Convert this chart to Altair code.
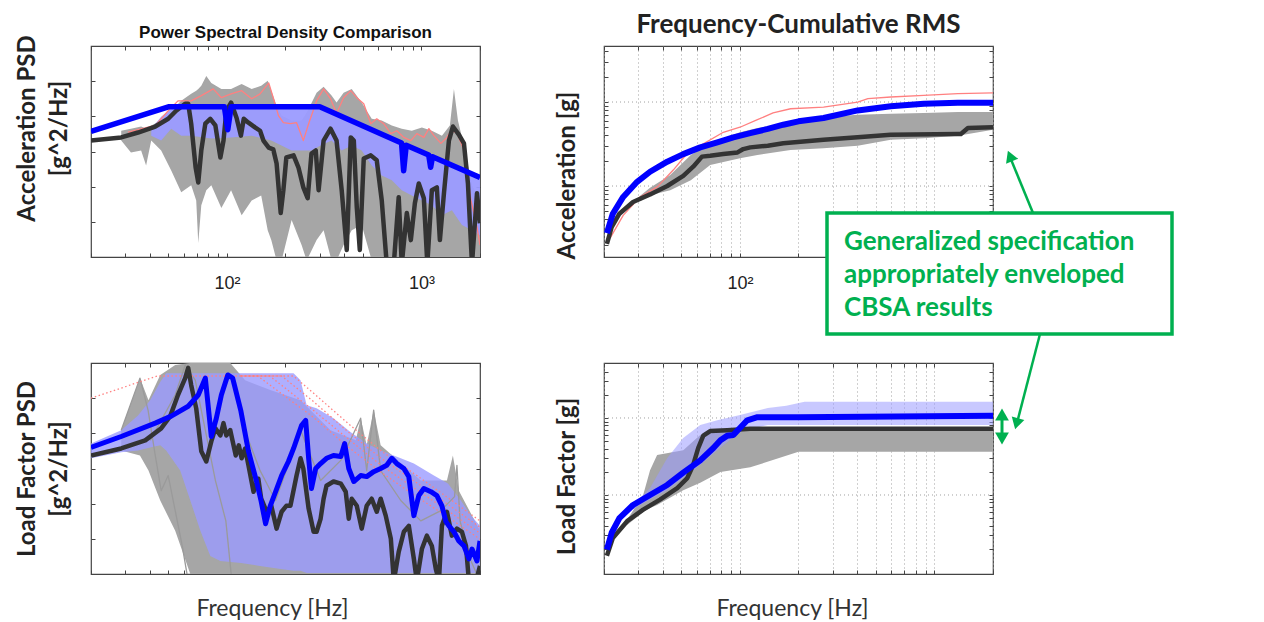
import altair as alt
import pandas as pd

# ---------------- shared axis ticks (log frequency axis) ----------------
X_TICKS = [20, 30, 40, 50, 60, 70, 80, 90, 100, 200, 300, 400, 500, 600, 700, 800, 900, 1000, 2000]
PSD_TICKS = [0, 1, 2, 3, 4, 5, 6]          # decades (log10 of PSD, relative)
RMS_TICKS = [-0.699, -0.523, -0.398, -0.301, -0.222, -0.155, -0.097, -0.046, 0,
             0.301, 0.477, 0.602, 0.699, 0.778, 0.845, 0.903, 0.954, 1, 1.301, 1.477, 1.602]
MAJOR_GRID = [0, 1]

# ---------------- Top-left: Acceleration PSD ----------------
TL_SPEC_F = [20, 50, 97, 101, 105, 300, 790, 810, 835, 1090, 1115, 1140, 2000]
TL_SPEC_V = [3.57, 4.27, 4.27, 3.62, 4.27, 4.27, 3.24, 2.45, 3.18, 2.90, 2.55, 2.85, 2.26]

TL_BLACK_F = [20, 28.6, 34.9, 42.8, 49.9, 54.8, 61, 63.2, 65.5, 69, 71.2, 73.8, 77.4, 82.1, 87.2, 92.5, 96, 99.3,
              105, 112, 118, 122, 129, 140, 148, 154, 164, 173, 180, 189, 195, 202, 220, 233, 247, 260, 272, 286,
              296, 314, 341, 366, 389, 413, 433, 449, 465, 482, 505, 549, 589, 625, 663, 721, 764, 792, 841, 882,
              925, 969, 1029, 1072, 1131, 1200, 1244, 1305, 1384, 1451, 1557, 1654, 1734, 1819, 1930, 2000]
TL_BLACK_V = [3.31, 3.40, 3.54, 3.71, 3.93, 4.16, 4.36, 4.36, 3.79, 2.55, 2.12, 3.03, 3.79, 3.93, 3.74, 2.83, 3.31,
              4.16, 4.39, 3.96, 3.45, 3.93, 3.82, 3.68, 3.59, 3.31, 3.11, 3.06, 2.66, 1.25, 1.90, 2.83, 2.89, 2.55,
              1.98, 1.67, 2.94, 3.03, 1.90, 3.31, 3.65, 3.31, 1.90, 0.20, 3.40, 3.31, 1.42, 0.20, 2.80, 2.89, 2.75,
              1.61, -0.2, -0.2, 1.70, -0.2, 1.25, 0.48, 1.53, 2.09, 1.67, -0.2, 1.90, 1.98, 0.48, 1.81, 3.31, 3.71,
              3.48, 3.23, 2.09, -0.2, 1.81, 0.96]

TL_RED_F = [31, 42.8, 49.9, 56, 65.5, 73.8, 85, 93.6, 105, 119, 134, 148, 164, 173, 184, 195, 212, 228, 247, 263,
            289, 314, 341, 366, 398, 433, 465, 505, 549, 589, 640, 696, 747, 812, 882, 947, 1029, 1092, 1159, 1259,
            1352, 1417, 1522, 1654, 1797, 1930, 2000]
TL_RED_V = [3.55, 3.74, 4.16, 4.44, 4.44, 4.59, 4.78, 4.53, 4.64, 4.73, 4.50, 4.64, 4.95, 4.53, 4.02, 3.82, 3.79,
            3.82, 3.31, 3.79, 4.44, 4.78, 4.50, 4.08, 4.53, 4.73, 4.53, 4.36, 3.79, 3.93, 3.79, 3.51, 3.59, 3.40,
            3.31, 3.51, 3.40, 3.65, 3.45, 3.23, 3.40, 3.59, 3.54, 3.03, 1.61, 0.85, 0.34]

TL_GRAY_F = [28.6, 32.1, 36.2, 38.4, 40.8, 45.9, 51.7, 58.2, 65.5, 69.5, 71.2, 73.8, 78.3, 83.1, 93.6, 105, 119, 134,
             150, 162, 169, 180, 191, 215, 242, 257, 289, 314, 345, 366, 398, 438, 493, 555, 625, 704, 792, 892,
             1005, 1131, 1274, 1400, 1469, 1540, 1654, 1819, 2000]
TL_GRAY_HI = [3.59, 3.65, 3.71, 3.65, 3.74, 3.88, 4.16, 4.44, 4.64, 4.73, 4.78, 4.87, 5.15, 4.95, 4.78, 4.78, 4.92,
              4.78, 4.87, 5.01, 4.73, 4.30, 4.02, 3.88, 3.88, 4.10, 4.67, 4.84, 4.59, 4.39, 4.67, 4.78, 4.39, 3.93,
              3.88, 3.74, 3.65, 3.59, 3.68, 3.59, 3.45, 3.74, 4.78, 3.88, 3.17, 2.04, 1.61]
TL_GRAY_LO = [3.31, 2.97, 3.03, 2.60, 3.31, 3.03, 2.46, 1.84, 2.04, 1.61, 0.40, 1.47, 1.90, 2.04, 1.39, 1.90, 1.19,
              1.61, 1.75, 0.76, 0.48, -0.1, -0.1, 1.05, 0.34, -0.1, 0.48, 0.76, -0.1, -0.1, 0.34, 0.76, 0.91,
              -0.1, -0.1, -0.1, -0.1, -0.1, -0.1, -0.1, -0.1, -0.1, -0.1, -0.1, -0.1, -0.1, -0.1]

TL_LB_F = [40.8, 45.9, 51.7, 58.2, 65.5, 83.1, 105, 134, 169, 215, 272, 303, 345, 389, 438, 493, 555, 625, 704, 792,
           892, 1005, 1131, 1274, 1434, 1615, 1819, 2000]
TL_LB_HI = [3.65, 3.99, 4.22, 4.25, 4.25, 4.25, 4.25, 4.25, 4.25, 4.25, 4.25, 4.25, 4.13, 3.99, 3.88, 3.76, 3.62,
            3.51, 3.37, 3.26, 3.11, 3.00, 2.89, 2.75, 2.63, 2.49, 2.38, 2.26]
TL_LB_LO = [3.45, 3.31, 3.65, 3.45, 3.45, 3.37, 3.40, 3.45, 3.31, 3.03, 3.03, 3.17, 3.31, 3.03, 3.17, 3.03, 2.60,
            2.32, 2.18, 1.90, 1.75, 1.61, 1.47, 1.19, 1.33, 0.91, 0.76, 0.62]

# ---------------- Bottom-left: Load factor PSD ----------------
BL_BLUE_F = [20, 28.6, 42.8, 51.7, 63.2, 71.2, 77.4, 80.3, 83.1, 88.2, 93.6, 101, 107, 118, 129, 142, 150, 158, 167,
             178, 191, 207, 220, 242, 254, 263, 272, 286, 303, 325, 353, 385, 403, 423, 449, 487, 523, 568, 617, 663,
             704, 747, 812, 861, 914, 969, 1029, 1118, 1200, 1274, 1336, 1384, 1469, 1557, 1654, 1754, 1819, 1930,
             2000]
BL_BLUE_V = [3.60, 3.91, 4.29, 4.49, 4.77, 5.09, 5.57, 4.71, 3.91, 4.43, 5.09, 5.66, 5.57, 4.63, 3.49, 2.63, 2.06,
             1.43, 1.94, 2.34, 2.80, 3.20, 3.57, 4.23, 4.37, 3.29, 2.43, 3.00, 3.14, 3.29, 3.37, 3.34, 3.71, 3.00,
             2.63, 2.80, 2.77, 2.91, 3.00, 3.09, 3.29, 3.14, 3.00, 2.77, 1.66, 2.23, 2.43, 2.34, 2.23, 1.94, 1.49,
             1.37, 1.20, 0.94, 0.80, 0.43, 0.71, 0.37, 0.94]

BL_BLACK_F = [20, 28.6, 38, 45.9, 51.1, 56, 61, 63.2, 65.5, 69.5, 73.8, 78.3, 83.1, 87.2, 92.5, 96, 99.3, 104, 111,
              115, 119, 124, 129, 137, 145, 150, 160, 169, 180, 191, 202, 212, 228, 239, 247, 263, 279, 289, 303,
              314, 325, 353, 385, 408, 423, 438, 465, 493, 523, 555, 589, 617, 655, 696, 721, 764, 812, 861, 914,
              947, 1005, 1066, 1131, 1186, 1230, 1274, 1352, 1434, 1522, 1615, 1694, 1754, 1908, 2000]
BL_BLACK_V = [3.37, 3.57, 3.80, 4.14, 4.49, 5.09, 5.57, 5.86, 5.37, 4.71, 3.49, 3.20, 3.77, 4.14, 3.94, 4.29, 3.94,
              4.09, 3.37, 3.66, 3.29, 3.57, 3.09, 2.34, 2.71, 2.14, 1.77, 1.94, 1.29, 1.77, 1.94, 1.94, 2.80, 3.29,
              3.00, 1.86, 1.20, 1.20, 1.57, 2.14, 2.51, 2.63, 2.57, 2.34, 1.57, 2.14, 1.94, 1.29, 1.94, 2.14, 1.77,
              2.14, 1.66, 1.00, -0.2, 0.63, 1.20, 1.37, 0.43, -0.2, 0.71, 1.09, 0.80, 0.14, -0.2, 1.37, 1.77, 1.09,
              1.29, 1.20, 0.80, -0.2, -0.2, 0.23]

BL_LB_F = [20, 28.6, 34.9, 40.3, 45.4, 48.7, 57.5, 64.8, 73, 82.1, 92.5, 118, 148, 189, 220, 239, 257, 289, 353, 433,
           523, 617, 783, 914, 1159, 1368, 1594, 1797, 2000]
BL_LB_HI = [3.71, 4.09, 4.51, 4.94, 5.46, 5.71, 5.71, 5.71, 5.71, 5.71, 5.71, 5.71, 5.71, 5.71, 5.71, 5.51, 4.80,
            4.71, 4.43, 4.03, 3.71, 3.51, 3.29, 3.14, 2.80, 2.57, 2.09, 1.66, 1.37]
BL_LB_LO = [3.29, 3.46, 3.51, 3.60, 3.66, 3.51, 2.94, 2.09, 1.23, 0.51, 0.37, 0.31, 0.23, 0.14, 0.09, 0.09, 0.03,
            0.03, 0.03, 0.03, 0.03, 0.03, 0.03, 0.03, 0.03, 0.03, 0.03, 0.03, 0.03]

BL_GRAY_F = [28.6, 35.7, 39.5, 45.4, 54.2, 64.8, 104, 124, 167, 239, 341, 460, 487, 523, 568, 617, 992, 1352, 1451,
             1557, 2000]
BL_GRAY_HI = [4.09, 5.57, 4.94, 5.66, 5.94, 6.0, 6.0, 5.51, 5.23, 4.94, 4.09, 3.80, 4.43, 3.66, 4.66, 3.66, 2.66,
              2.66, 3.37, 2.37, 1.23]
BL_GRAY_LO = [3.51, 3.37, 2.94, 2.09, 1.23, 0, 0, 0, 0, 0, 0, 0, 0, 0, 0, 0, 0, 0, 0, 0, 0]

BL_G1_F = [28.6, 35.7, 39.3, 42.8, 45.9, 49.9, 54.2, 58.9, 63.2]
BL_G1_V = [4.09, 5.57, 4.66, 3.37, 2.37, 2.80, 1.80, 0.80, -0.2]
BL_G2_F = [40.3, 54.2, 61, 68.7, 77.4, 87.2, 98.7, 106]
BL_G2_V = [3.80, 5.09, 5.94, 5.51, 4.09, 2.66, 1.51, -0.2]
BL_G3_F = [118, 148, 178, 239, 303, 385, 487, 523, 568, 617, 783, 992, 1259, 1480, 1522, 1580, 1797, 2000]
BL_G3_V = [4.37, 2.94, 2.09, 4.09, 2.66, 3.23, 4.43, 2.94, 4.66, 2.94, 2.09, 1.51, 1.80, 2.20, 3.09, 1.50, 0.37, -0.2]

BL_RED1_F = [20, 43.8, 220, 279, 418, 617, 914, 1368, 2000]
BL_RED1_V = [5.0, 5.63, 5.63, 5.14, 4.29, 3.51, 2.86, 2.17, 1.51]
BL_RED2_F = [118, 191, 279, 418, 617, 914, 1368, 2000]
BL_RED2_V = [5.63, 5.63, 4.90, 4.05, 3.30, 2.65, 1.98, 1.33]
BL_RED3_F = [118, 166, 279, 418, 617, 914, 1368, 2000]
BL_RED3_V = [5.63, 5.63, 4.65, 3.85, 3.10, 2.45, 1.80, 1.16]
BL_RED4_F = [118, 144, 279, 418, 617, 914, 1368, 2000]
BL_RED4_V = [5.63, 5.63, 4.45, 3.62, 2.90, 2.25, 1.62, 0.99]

# ---------------- Top-right: Acceleration cumulative RMS (log10 g) ----------------
TR_BLUE_F = [20.7, 22.2, 25.1, 29.6, 34.5, 42.3, 51.1, 62.5, 76.5, 92.5, 113, 139, 167, 200, 269, 403, 596, 882,
             1320, 2000]
TR_BLUE_V = [-0.56, -0.33, -0.13, 0.05, 0.17, 0.29, 0.38, 0.46, 0.52, 0.58, 0.63, 0.68, 0.73, 0.77, 0.81, 0.90,
             0.95, 0.98, 0.99, 0.99]
TR_RED_F = [21.5, 25.1, 30.6, 37.6, 45.4, 53.6, 60.3, 82.1, 100, 123, 148, 182, 269, 403, 455, 596, 882, 1320, 2000]
TR_RED_V = [-0.62, -0.35, -0.13, -0.01, 0.19, 0.39, 0.46, 0.64, 0.70, 0.79, 0.87, 0.92, 0.94, 1.00, 1.04, 1.06,
            1.08, 1.10, 1.11]
TR_BLACK_F = [20.7, 21.9, 24, 28.2, 34.5, 42.3, 51.1, 57.5, 63.8, 70.3, 82.1, 97.2, 104, 113, 139, 167, 269, 403,
              596, 1320, 1368, 1486, 2000]
TR_BLACK_V = [-0.69, -0.49, -0.33, -0.19, -0.10, 0.0, 0.12, 0.23, 0.35, 0.36, 0.38, 0.40, 0.44, 0.46, 0.48, 0.51,
              0.55, 0.58, 0.61, 0.62, 0.62, 0.69, 0.70]
TR_GRAY_F = [30.6, 34.5, 43.8, 55.9, 70.3, 100, 123, 182, 269, 403, 596, 882, 1320, 2000]
TR_GRAY_HI = [-0.12, -0.02, 0.13, 0.37, 0.51, 0.64, 0.69, 0.76, 0.82, 0.85, 0.86, 0.87, 0.88, 0.88]
TR_GRAY_LO = [-0.18, -0.11, -0.05, 0.07, 0.25, 0.33, 0.37, 0.43, 0.45, 0.48, 0.55, 0.57, 0.60, 0.67]

# ---------------- Bottom-right: Load factor cumulative RMS (log10 g) ----------------
BR_BLUE_F = [20.7, 21.9, 24, 28.2, 34.5, 42.3, 51.1, 62.5, 73, 79.4, 86, 92.5, 100, 109, 123, 200, 2000]
BR_BLUE_V = [-0.71, -0.49, -0.30, -0.13, 0, 0.13, 0.29, 0.45, 0.61, 0.71, 0.77, 0.78, 0.87, 0.97, 1.01, 1.01, 1.03]
BR_BLACK_F = [20.7, 22.2, 26.3, 31.8, 38.8, 47.6, 53.6, 57.5, 61, 64.8, 70.3, 86, 113, 2000]
BR_BLACK_V = [-0.79, -0.56, -0.34, -0.19, -0.06, 0.09, 0.22, 0.39, 0.61, 0.77, 0.83, 0.84, 0.86, 0.86]
BR_LB_F = [28.2, 34.5, 42.3, 51.1, 62.5, 76.5, 100, 139, 173, 215, 2000]
BR_LB_HI = [-0.13, 0.09, 0.48, 0.74, 0.91, 0.97, 1.04, 1.13, 1.16, 1.21, 1.21]
BR_LB_LO = [-0.19, -0.06, 0.06, 0.22, 0.39, 0.58, 0.82, 0.91, 0.91, 0.91, 0.91]
BR_GRAY_F = [26.3, 31.8, 34.5, 37.5, 51.1, 62.5, 79.4, 113, 200, 2000]
BR_GRAY_HI = [-0.32, 0, 0.32, 0.52, 0.58, 0.78, 0.82, 0.84, 0.84, 0.84]
BR_GRAY_LO = [-0.39, -0.22, -0.17, -0.13, 0.06, 0.16, 0.30, 0.36, 0.56, 0.56]

# ---------------- text ----------------
TITLE_LEFT = "Power Spectral Density Comparison"
TITLE_RIGHT = "Frequency-Cumulative RMS"
ANNOT = "Generalized specification\nappropriately enveloped\nCBSA results"

BLUE, BLACK, GRAY, LBLUE, RED, GREEN = "#0000ff", "#333333", "#a6a6a6", "#9b9bff", "#ff8080", "#00b050"
W, H = 389, 211


def ldf(f, v):
    return pd.DataFrame({"f": f, "v": v})


def bdf(f, hi, lo):
    return pd.DataFrame({"f": f, "hi": hi, "lo": lo})


XSCALE = alt.Scale(type="log", domain=[20, 2000], nice=False)


def xenc(label_expr, title, grid, title_x=None):
    ax = dict(values=X_TICKS, domain=False, tickSize=4, offset=-4, tickColor="#444444", tickWidth=1,
              grid=grid, gridColor="#a0a0a0", gridDash=[1, 3], gridWidth=1,
              labelFont="Liberation Sans", labelFontSize=18, labelColor="#222222", labelPadding=17,
              titleFont="Lato", titleFontSize=23, titleFontWeight="normal", titleColor="#333333",
              titlePadding=23)
    if title_x is not None:
        ax["titleX"] = title_x
    if label_expr:
        ax["labelExpr"] = label_expr
    else:
        ax["labels"] = False
    return alt.X("f:Q", scale=XSCALE, axis=alt.Axis(title=title, **ax))


def yenc(field, domain, ticks, title, pad, title_y=None):
    ax = dict(values=ticks, labels=False, domain=False, tickSize=4, offset=-4, tickColor="#444444",
              grid=False, title=title, titleFont="Lato", titleFontSize=24, titleFontWeight="bold",
              titleColor="#222222", titlePadding=pad, titleLineHeight=32)
    if title_y is not None:
        ax["titleY"] = title_y
    return alt.Y(f"{field}:Q", scale=alt.Scale(domain=domain, nice=False, zero=False), axis=alt.Axis(**ax))


def mirror_axes(df, domain, yticks):
    """invisible layer carrying the top / right tick marks of the box"""
    return alt.Chart(df).mark_point(opacity=0).encode(
        x=alt.X("f:Q", scale=XSCALE, axis=alt.Axis(orient="top", values=X_TICKS, labels=False, domain=False,
                                                    tickSize=4, offset=-4, tickColor="#444444", grid=False,
                                                    title=None)),
        y=alt.Y("v:Q", scale=alt.Scale(domain=domain, nice=False, zero=False),
                axis=alt.Axis(orient="right", values=yticks, labels=False, domain=False, tickSize=4, offset=-4,
                              tickColor="#444444", grid=False, title=None)))


def build(X, yargs, bands, lines, extra=()):
    layers = []
    for df, color, op in bands:
        layers.append(alt.Chart(df).mark_area(color=color, opacity=op, clip=True).encode(
            x=X, y=yenc("hi", *yargs), y2=alt.Y2("lo:Q")))
    for df, color, wdt, dash in lines:
        kw = dict(color=color, strokeWidth=wdt, clip=True, strokeJoin="round")
        if dash:
            kw["strokeDash"] = dash
        layers.append(alt.Chart(df).mark_line(**kw).encode(x=X, y=yenc("v", *yargs)))
    layers.extend(extra)
    return layers


def boxed(layers, mirror):
    return alt.layer(alt.layer(*layers), mirror).resolve_axis(x="independent", y="independent")


LBL_23 = "datum.value == 100 ? '10²' : (datum.value == 1000 ? '10³' : '')"
LBL_2 = "datum.value == 100 ? '10²' : ''"

# ---- top-left
tl_y = ([0, 6], PSD_TICKS, ["Acceleration PSD", "[g^2/Hz]"], 19, 82)
tl_layers = build(
    xenc(LBL_23, None, False), tl_y,
    [(bdf(TL_GRAY_F, TL_GRAY_HI, TL_GRAY_LO), GRAY, 1), (bdf(TL_LB_F, TL_LB_HI, TL_LB_LO), LBLUE, 0.95)],
    [(ldf(TL_RED_F, TL_RED_V), RED, 1.3, None), (ldf(TL_BLACK_F, TL_BLACK_V), BLACK, 4.5, None),
     (ldf(TL_SPEC_F, TL_SPEC_V), BLUE, 5.5, None)])
tl = boxed(tl_layers, mirror_axes(ldf(TL_SPEC_F, TL_SPEC_V), [0, 6], PSD_TICKS)).properties(
    width=W, height=H,
    title=alt.TitleParams(TITLE_LEFT, font="Liberation Sans", fontSize=17, fontWeight="bold", color="#111111",
                          offset=6, dy=13))

# ---- bottom-left
bl_y = ([0, 6], PSD_TICKS, ["Load Factor PSD", "[g^2/Hz]"], 19)
bl_layers = build(
    xenc(None, "Frequency [Hz]", False, 181), bl_y,
    [(bdf(BL_GRAY_F, BL_GRAY_HI, BL_GRAY_LO), GRAY, 1), (bdf(BL_LB_F, BL_LB_HI, BL_LB_LO), LBLUE, 0.8)],
    [(ldf(BL_G1_F, BL_G1_V), "#9a9a9a", 1.3, None), (ldf(BL_G2_F, BL_G2_V), "#9a9a9a", 1.3, None),
     (ldf(BL_G3_F, BL_G3_V), "#9a9a9a", 1.3, None),
     (ldf(BL_RED1_F, BL_RED1_V), RED, 1.3, [1.5, 2.5]), (ldf(BL_RED2_F, BL_RED2_V), RED, 1.3, [1.5, 2.5]),
     (ldf(BL_RED3_F, BL_RED3_V), RED, 1.3, [1.5, 2.5]), (ldf(BL_RED4_F, BL_RED4_V), RED, 1.3, [1.5, 2.5]),
     (ldf(BL_BLACK_F, BL_BLACK_V), BLACK, 4.5, None), (ldf(BL_BLUE_F, BL_BLUE_V), BLUE, 5, None)])
bl = boxed(bl_layers, mirror_axes(ldf(BL_BLUE_F, BL_BLUE_V), [0, 6], PSD_TICKS)).properties(width=W, height=H)

# ---- top-right (with annotation)
tr_dom = [-0.845, 1.667]
tr_y = (tr_dom, RMS_TICKS, "Acceleration [g]", 24, 129)
grid_tr = alt.Chart(pd.DataFrame({"v": MAJOR_GRID})).mark_rule(color="#a0a0a0", strokeDash=[1, 3]).encode(
    y=yenc("v", *tr_y))
one = pd.DataFrame({"a": [0]})
annot = [
    alt.Chart(one).mark_rule(color=GREEN, strokeWidth=2.5).encode(
        x=alt.value(429), y=alt.value(167), x2=alt.value(406), y2=alt.value(111)),
    alt.Chart(one).mark_point(shape="triangle-up", filled=True, size=170, angle=338, color=GREEN, opacity=1).encode(
        x=alt.value(406), y=alt.value(110)),
    alt.Chart(one).mark_rule(color=GREEN, strokeWidth=2.5).encode(
        x=alt.value(436), y=alt.value(288), x2=alt.value(413), y2=alt.value(377)),
    alt.Chart(one).mark_point(shape="triangle-up", filled=True, size=170, angle=195, color=GREEN, opacity=1).encode(
        x=alt.value(412.6), y=alt.value(377.7)),
    alt.Chart(one).mark_rule(color=GREEN, strokeWidth=3).encode(
        x=alt.value(398), y=alt.value(368), y2=alt.value(393)),
    alt.Chart(one).mark_point(shape="triangle-up", filled=True, size=190, angle=0, color=GREEN, opacity=1).encode(
        x=alt.value(398), y=alt.value(368.5)),
    alt.Chart(one).mark_point(shape="triangle-up", filled=True, size=190, angle=180, color=GREEN, opacity=1).encode(
        x=alt.value(398), y=alt.value(392.5)),
    alt.Chart(one).mark_rect(fill="white", stroke=GREEN, strokeWidth=3.5).encode(
        x=alt.value(223), x2=alt.value(568), y=alt.value(167), y2=alt.value(288)),
    alt.Chart(one).mark_text(text=ANNOT, lineBreak="\n", lineHeight=33, align="left", baseline="middle",
                             font="Lato", fontWeight="bold", fontSize=26, color=GREEN).encode(
        x=alt.value(240), y=alt.value(196)),
]
tr_layers = [grid_tr] + build(
    xenc(LBL_2, None, True), tr_y,
    [(bdf(TR_GRAY_F, TR_GRAY_HI, TR_GRAY_LO), GRAY, 1)],
    [(ldf(TR_RED_F, TR_RED_V), RED, 1.3, None), (ldf(TR_BLACK_F, TR_BLACK_V), BLACK, 4.5, None),
     (ldf(TR_BLUE_F, TR_BLUE_V), BLUE, 6, None)])
tr = alt.layer(boxed(tr_layers, mirror_axes(ldf(TR_BLUE_F, TR_BLUE_V), tr_dom, RMS_TICKS)), *annot).properties(
    width=W, height=H,
    title=alt.TitleParams(TITLE_RIGHT, font="Lato", fontSize=26, fontWeight="bold", color="#222222", offset=8))

# ---- bottom-right
br_dom = [-1.026, 1.714]
br_y = (br_dom, RMS_TICKS, "Load Factor [g]", 24, 113)
grid_br = alt.Chart(pd.DataFrame({"v": MAJOR_GRID})).mark_rule(color="#a0a0a0", strokeDash=[1, 3]).encode(
    y=yenc("v", *br_y))
br_layers = [grid_br] + build(
    xenc(None, "Frequency [Hz]", True, 188), br_y,
    [(bdf(BR_GRAY_F, BR_GRAY_HI, BR_GRAY_LO), GRAY, 1), (bdf(BR_LB_F, BR_LB_HI, BR_LB_LO), LBLUE, 0.55)],
    [(ldf(BR_BLACK_F, BR_BLACK_V), BLACK, 4.5, None), (ldf(BR_BLUE_F, BR_BLUE_V), BLUE, 6, None)])
br = boxed(br_layers, mirror_axes(ldf(BR_BLUE_F, BR_BLUE_V), br_dom, RMS_TICKS)).properties(width=W, height=H)

chart = alt.concat(tl, tr, bl, br, columns=2, spacing={"row": 106, "column": 124}, bounds="flush",
                   padding={"left": 6, "top": 2, "right": 5, "bottom": 5}).configure_view(
    stroke="#444444", strokeWidth=1.2)

chart.save("out.html", embed_options={"renderer": "svg", "actions": False})
